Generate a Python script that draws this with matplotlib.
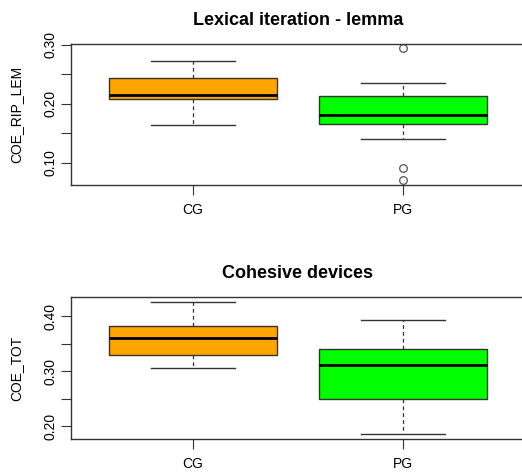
import matplotlib
matplotlib.use("Agg")
import matplotlib.pyplot as plt
from matplotlib.ticker import MultipleLocator, FuncFormatter

plt.rcParams['font.family'] = ['Liberation Sans', 'DejaVu Sans']

groups = ["CG", "PG"]
box_colors = ["#FFA500", "#00FF00"]

# Lexical iteration - lemma (COE_RIP_LEM)
lem_whislo = [0.164, 0.141]
lem_q1 = [0.208, 0.166]
lem_med = [0.215, 0.181]
lem_q3 = [0.243, 0.214]
lem_whishi = [0.272, 0.236]
lem_fliers = [[], [0.294, 0.092, 0.071]]

# Cohesive devices (COE_TOT)
tot_whislo = [0.3055, 0.186]
tot_q1 = [0.3296, 0.2496]
tot_med = [0.3605, 0.311]
tot_q3 = [0.3818, 0.3405]
tot_whishi = [0.4255, 0.3938]
tot_fliers = [[], []]

LINE = "#333333"


def make_stats(whislo, q1, med, q3, whishi, fliers):
    return [dict(label=g, whislo=a, q1=b, med=c, q3=d, whishi=e, fliers=f)
            for g, a, b, c, d, e, f in zip(groups, whislo, q1, med, q3, whishi, fliers)]


def draw_panel(ax, stats, title, ylabel, ylim, major, minor):
    bp = ax.bxp(stats, positions=[1, 2], widths=0.8, patch_artist=True,
                showfliers=True, capwidths=0.4,
                boxprops=dict(edgecolor=LINE, linewidth=1),
                medianprops=dict(color="black", linewidth=2.0),
                whiskerprops=dict(color=LINE, linewidth=0.9, linestyle=(0, (3, 2.5))),
                capprops=dict(color=LINE, linewidth=1),
                flierprops=dict(marker="o", markerfacecolor="none",
                                markeredgecolor="#555555", markersize=5.5,
                                markeredgewidth=0.9))
    for patch, c in zip(bp["boxes"], box_colors):
        patch.set_facecolor(c)
    ax.set_xlim(0.42, 2.58)
    ax.set_ylim(*ylim)
    ax.set_title(title, fontsize=13, fontweight="bold", pad=14)
    ax.set_ylabel(ylabel, fontsize=10, labelpad=14)
    ax.set_xticks([1, 2])
    ax.set_xticklabels(groups, fontsize=10)
    ax.yaxis.set_major_locator(MultipleLocator(minor))
    ax.yaxis.set_major_formatter(FuncFormatter(
        lambda v, p: ("%.2f" % v) if abs(round(v / major) * major - v) < 1e-6 else ""))
    for lbl in ax.get_yticklabels():
        lbl.set_rotation(90)
        lbl.set_va("center")
    ax.tick_params(axis="y", labelsize=10, length=7, color=LINE, pad=3)
    ax.tick_params(axis="x", length=7, color=LINE, pad=6)
    for sp in ax.spines.values():
        sp.set_color(LINE)
        sp.set_linewidth(1)


fig = plt.figure(figsize=(5.22, 4.72), dpi=100)
W, H = 522.0, 472.0
ax1 = fig.add_axes([71 / W, 1 - 185 / H, (525 - 71) / W, (185 - 44) / H])
ax2 = fig.add_axes([71 / W, 1 - 439 / H, (525 - 71) / W, (439 - 297) / H])

draw_panel(ax1, make_stats(lem_whislo, lem_q1, lem_med, lem_q3, lem_whishi, lem_fliers),
           "Lexical iteration - lemma", "COE_RIP_LEM", (0.0625, 0.3012), 0.10, 0.05)
draw_panel(ax2, make_stats(tot_whislo, tot_q1, tot_med, tot_q3, tot_whishi, tot_fliers),
           "Cohesive devices", "COE_TOT", (0.177, 0.435), 0.10, 0.05)

fig.savefig("out.png", dpi=100)
